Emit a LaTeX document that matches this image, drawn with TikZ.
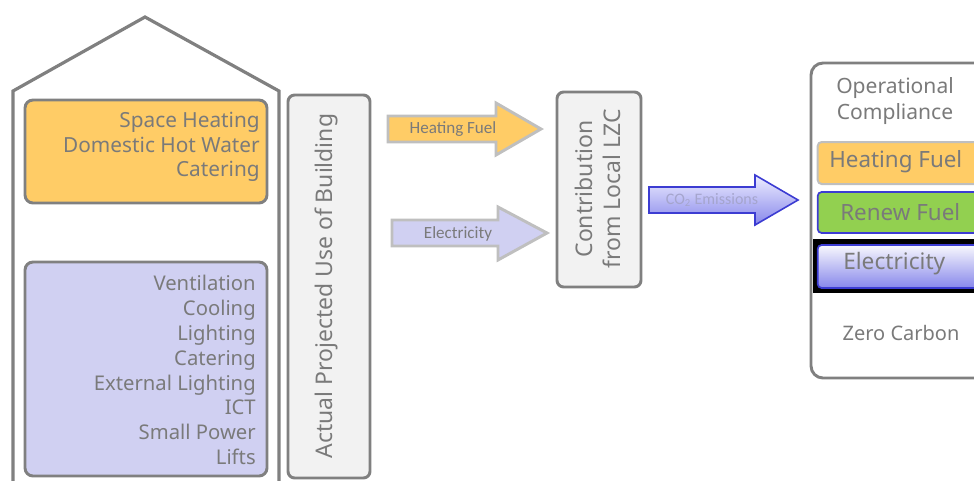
\documentclass[tikz,border=0pt]{standalone}
\usepackage{fontspec}
\setmainfont{Noto Sans}
\newfontfamily\arrowfont{Carlito}
\definecolor{linegray}{RGB}{128,128,128}
\definecolor{txtgray}{RGB}{122,122,122}
\definecolor{orangefill}{RGB}{255,204,102}
\definecolor{lavfill}{RGB}{208,208,242}
\definecolor{boxfill}{RGB}{242,242,242}
\definecolor{arrowedge}{RGB}{191,191,191}
\definecolor{greenfill}{RGB}{146,208,80}
\definecolor{blueedge}{RGB}{60,60,210}
\definecolor{co2light}{RGB}{238,238,255}
\definecolor{co2dark}{RGB}{135,135,235}
\definecolor{co2text}{RGB}{165,165,205}
\tikzset{
  wall/.style={draw=linegray, line width=2.4pt, line join=miter},
  catbox/.style={draw=linegray, line width=2.2pt, rounded corners=6pt, inner sep=0pt},
  tallbox/.style={draw=linegray, line width=2.2pt, rounded corners=5pt, fill=boxfill, inner sep=0pt},
  listtext/.style={text=txtgray, align=right, anchor=east, inner sep=0pt},
  rottext/.style={text=txtgray, rotate=90, align=center, font=\fontsize{17.2}{21}\selectfont, inner sep=0pt},
  flowarrow/.style={draw=arrowedge, line width=2.2pt, line join=miter},
  arrowlabel/.style={text=txtgray, font=\arrowfont\fontsize{12.8}{14}\selectfont, inner sep=0pt},
  rtext/.style={text=txtgray, inner sep=0pt},
}
\begin{document}
\begin{tikzpicture}[x=0.75pt,y=-0.75pt]
\useasboundingbox (0,0) rectangle (974,480);
\begin{scope}
\clip (0,0) rectangle (974,480);
% house outline
\draw[wall] (13,495) -- (13,91) -- (145,17) -- (279,91) -- (279,495);
% heating uses
\node[catbox, fill=orangefill, minimum width=181.5pt, minimum height=77.25pt] (heat) at (146,151.5) {};
\node[listtext, font=\fontsize{15.6}{18.6}\selectfont] (heattxt) at (260,147) {Space Heating\\Domestic Hot Water\\Catering};
% electricity uses
\node[catbox, fill=lavfill, minimum width=181.5pt, minimum height=160.5pt] (elec) at (146,369) {};
\node[listtext, font=\fontsize{15.2}{18.6}\selectfont] (electxt) at (256,370) {Ventilation\\Cooling\\Lighting\\Catering\\External Lighting\\ICT\\Small Power\\Lifts};
% actual projected use
\node[tallbox, minimum width=61.5pt, minimum height=287.25pt] (use) at (329,286.5) {};
\node[rottext] (usetxt) at (326,286) {Actual Projected Use of Building};
% heating fuel arrow
\draw[flowarrow, fill=orangefill] (388,116) -- (496,116) -- (496,103) -- (541,129) -- (496,155) -- (496,142) -- (388,142) -- cycle;
\node[arrowlabel] (hflab) at (453,129) {Heating Fuel};
% electricity arrow
\draw[flowarrow, fill=lavfill] (392,220) -- (498,220) -- (498,207) -- (547,233) -- (498,260) -- (498,246) -- (392,246) -- cycle;
\node[arrowlabel] (ellab) at (458,234) {Electricity};
% contribution box
\node[tallbox, minimum width=63pt, minimum height=146.25pt] (lzc) at (599,189.5) {};
\node[rottext] (lzctxt) at (598,189) {Contribution\\from Local LZC};
% CO2 arrow
\draw[draw=blueedge, line width=1.2pt, line join=miter, top color=co2light, bottom color=co2dark] (649,187) -- (755,187) -- (755,175) -- (798,200) -- (755,225) -- (755,213) -- (649,213) -- cycle;
\node[arrowlabel, text=co2text, font=\arrowfont\fontsize{12}{14}\selectfont] (co2lab) at (712,200) {CO\textsubscript{2} Emissions};
% operational compliance box
\node[draw=linegray, line width=2.2pt, rounded corners=9pt, minimum width=150pt, minimum height=236.25pt, inner sep=0pt] (oc) at (911,220.5) {};
\node[rtext, align=center, font=\fontsize{15.8}{19.5}\selectfont] (octxt) at (895,101) {Operational\\Compliance};
\node[draw=arrowedge, line width=1.5pt, fill=orangefill, rounded corners=3pt, minimum width=140pt, minimum height=31.5pt, inner sep=0pt] (hfbox) at (911,163) {};
\node[rtext, anchor=west, font=\fontsize{16.8}{19}\selectfont] (hftxt) at (829,162) {Heating Fuel};
\node[draw=blueedge, line width=1.3pt, fill=greenfill, rounded corners=3pt, minimum width=140pt, minimum height=30.75pt, inner sep=0pt] (rfbox) at (911,212.5) {};
\node[rtext, anchor=west, font=\fontsize{16.8}{19}\selectfont] (rftxt) at (840,212) {Renew Fuel};
\node[fill=black, minimum width=150pt, minimum height=40.5pt, inner sep=0pt] (band) at (913,266) {};
\node[draw=blueedge, line width=1.3pt, top color=white!85!lavfill, bottom color=co2dark, rounded corners=3pt, minimum width=140pt, minimum height=32.25pt, inner sep=0pt] (elbox) at (911,266.5) {};
\node[rtext, anchor=west, font=\fontsize{17}{19}\selectfont] (eltxt) at (843,264) {Electricity};
\node[rtext, font=\fontsize{15}{17}\selectfont] (zctxt) at (901,333) {Zero Carbon};
\end{scope}
\end{tikzpicture}
\end{document}
